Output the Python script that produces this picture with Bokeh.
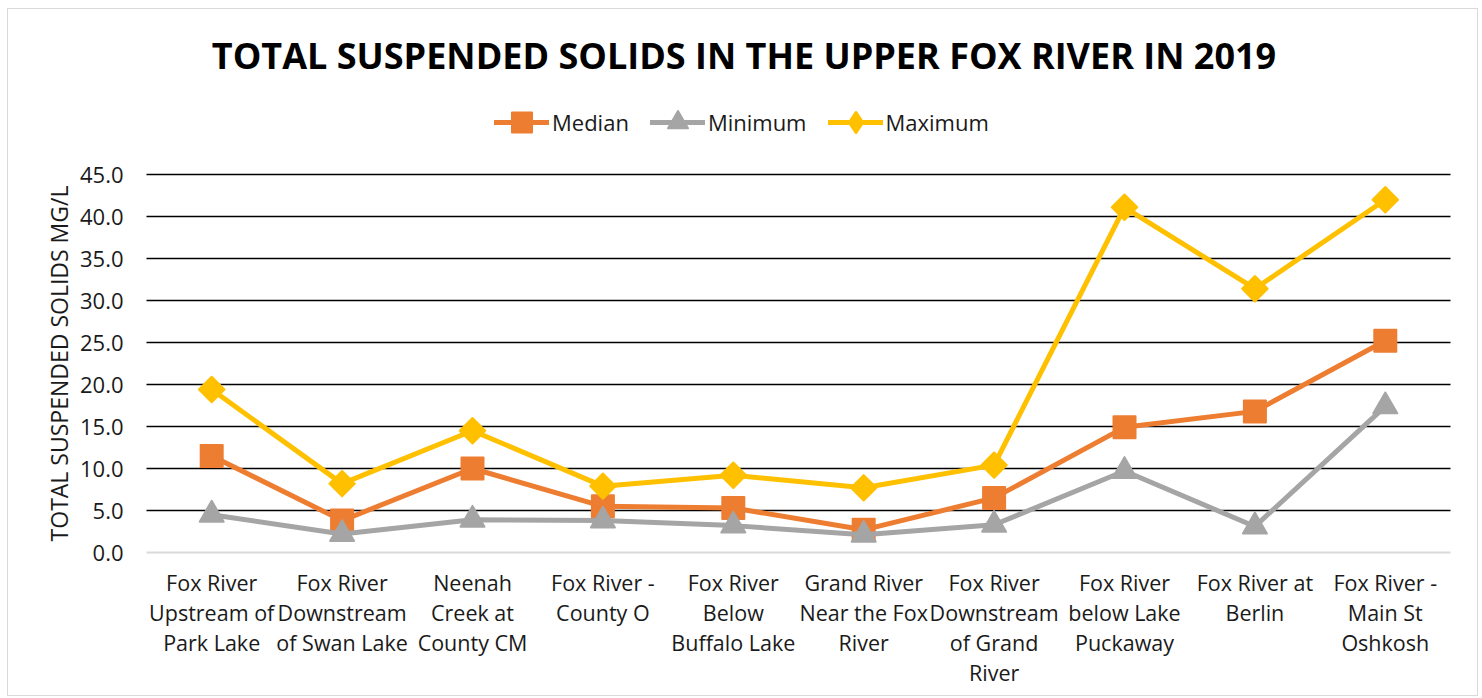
import math
from bokeh.plotting import figure
from bokeh.models import Legend, LegendItem, Range1d, Label
from bokeh.embed import file_html
from bokeh.resources import INLINE

# Monitoring sites along the Upper Fox River (upstream to downstream)
sites = [
    "Fox River Upstream of Park Lake",
    "Fox River Downstream of Swan Lake",
    "Neenah Creek at County CM",
    "Fox River - County O",
    "Fox River Below Buffalo Lake",
    "Grand River Near the Fox River",
    "Fox River Downstream of Grand River",
    "Fox River below Lake Puckaway",
    "Fox River at Berlin",
    "Fox River - Main St Oshkosh",
]
# Wrapped category labels, one list of lines per site
site_label_lines = [
    ["Fox River", "Upstream of", "Park Lake"],
    ["Fox River", "Downstream", "of Swan Lake"],
    ["Neenah", "Creek at", "County CM"],
    ["Fox River -", "County O"],
    ["Fox River", "Below", "Buffalo Lake"],
    ["Grand River", "Near the Fox", "River"],
    ["Fox River", "Downstream", "of Grand", "River"],
    ["Fox River", "below Lake", "Puckaway"],
    ["Fox River at", "Berlin"],
    ["Fox River -", "Main St", "Oshkosh"],
]

# Total suspended solids, mg/L
median = [11.5, 3.8, 10.0, 5.5, 5.3, 2.7, 6.5, 14.9, 16.8, 25.2]
minimum = [4.5, 2.2, 3.9, 3.8, 3.2, 2.1, 3.3, 9.7, 3.1, 17.4]
maximum = [19.4, 8.2, 14.5, 7.9, 9.2, 7.7, 10.4, 41.1, 31.4, 42.0]

y_ticks = [0, 5, 10, 15, 20, 25, 30, 35, 40, 45]

FONT = "Open Sans"
TEXT = "#1a1a1a"

# Page geometry (pixels)
CANVAS_LEFT, CANVAS_TOP = 8, 9
WIDTH, HEIGHT = 1471, 688
CANVAS_RIGHT, CANVAS_BOTTOM = CANVAS_LEFT + WIDTH, CANVAS_TOP + HEIGHT
PLOT_LEFT, PLOT_RIGHT = 146, 1450
PLOT_TOP, PLOT_BOTTOM = 174, 552

Y_MAX = y_ticks[-1]
n = len(sites)
px_per_y = (PLOT_BOTTOM - PLOT_TOP) / Y_MAX
px_per_x = (PLOT_RIGHT - PLOT_LEFT) / n


def y_at(py):
    return (PLOT_BOTTOM - py) / px_per_y


def x_at(px):
    return (px - PLOT_LEFT) / px_per_x


# Category centres on a linear axis
xs = [i + 0.5 for i in range(n)]

# The data frame spans the whole canvas so that every text can sit in it
p = figure(
    x_range=Range1d(x_at(CANVAS_LEFT), x_at(CANVAS_RIGHT)),
    y_range=Range1d(y_at(CANVAS_BOTTOM), y_at(CANVAS_TOP)),
    width=WIDTH, height=HEIGHT,
    x_axis_type=None, y_axis_type=None,
    output_backend="svg", toolbar_location=None,
    min_border=0,
)
p.styles = {"margin-left": "7px", "margin-top": "8px",
            "border": "1px solid #d9d9d9"}
p.outline_line_color = None
p.grid.visible = False
p.background_fill_color = "white"
p.border_fill_color = "white"

# Horizontal grid lines and the zero baseline
grid_y = y_ticks[1:]
p.multi_line(xs=[[0, n]] * len(grid_y), ys=[[t, t] for t in grid_y],
             line_color="#000000", line_width=1.7)
p.line([0, n], [y_ticks[0], y_ticks[0]], line_color="#d9d9d9", line_width=2)

# Y tick labels
for t in y_ticks:
    p.add_layout(Label(
        x=x_at(PLOT_LEFT - 23), y=t, text=f"{t:.1f}",
        text_font=FONT, text_font_size="22px", text_color=TEXT,
        text_align="right", text_baseline="middle",
    ))

# Y axis title
p.add_layout(Label(
    x=x_at(58), y=Y_MAX / 2, text="TOTAL SUSPENDED SOLIDS MG/L",
    angle=math.pi / 2, text_font=FONT, text_font_size="23px",
    text_color=TEXT, text_align="center", text_baseline="middle",
))

# Chart title
p.add_layout(Label(
    x=x_at((CANVAS_LEFT + CANVAS_RIGHT) / 2), y=y_at(55),
    text="TOTAL SUSPENDED SOLIDS IN THE UPPER FOX RIVER IN 2019",
    text_font=FONT, text_font_style="bold", text_font_size="36px",
    text_color="#000000", text_align="center", text_baseline="middle",
))

# Category labels, 30 px line pitch
LINE_PITCH = 30
FIRST_LINE_MID = 582
for xc, lines in zip(xs, site_label_lines):
    for k, line in enumerate(lines):
        p.add_layout(Label(
            x=xc, y=y_at(FIRST_LINE_MID + k * LINE_PITCH), text=line,
            text_font=FONT, text_font_size="21.5px", text_color=TEXT,
            text_align="center", text_baseline="middle",
        ))

series = [
    ("Median", median, "#ED7D31", "square", 22, 0.0),
    ("Minimum", minimum, "#A5A5A5", "triangle", 24, 0.0),
    ("Maximum", maximum, "#FFC000", "square", 18, math.pi / 4),
]

items = []
for name, vals, color, marker, size, angle in series:
    ln = p.line(xs, vals, line_color=color, line_width=5,
                line_join="round", line_cap="round")
    sc = p.scatter(xs, vals, marker=marker, size=size, angle=angle,
                   fill_color=color, line_color=color, line_width=2,
                   line_join="round")
    if angle:
        # legend keys are drawn unrotated, so the key uses a diamond marker
        # on a source with no drawable points
        key = p.scatter(xs, [float("nan")] * n, marker="diamond",
                        fill_color=color, line_color=color, line_width=3,
                        line_join="round")
        items.append(LegendItem(label=name, renderers=[ln, key]))
    else:
        items.append(LegendItem(label=name, renderers=[ln, sc]))

LEGEND_LEFT, LEGEND_BOTTOM = 494, 147
legend = Legend(items=items, orientation="horizontal",
                location=(LEGEND_LEFT - CANVAS_LEFT, CANVAS_BOTTOM - LEGEND_BOTTOM))
legend.label_text_font = FONT
legend.label_text_font_size = "22px"
legend.label_text_color = TEXT
legend.glyph_width = 55
legend.glyph_height = 50
legend.label_standoff = 3
legend.spacing = 21
legend.padding = 0
legend.margin = 0
legend.border_line_color = None
legend.background_fill_alpha = 0
p.add_layout(legend, "center")

open("out.html", "w").write(file_html(p, INLINE))
